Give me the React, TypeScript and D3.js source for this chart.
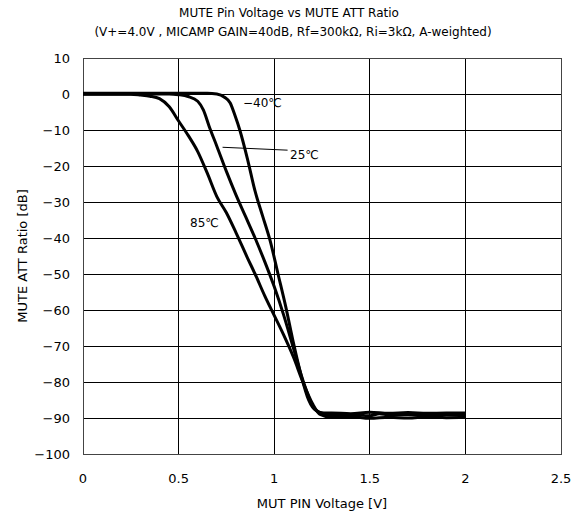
import React from "react";
import * as d3 from "d3";

const xTicks = [0, 0.5, 1, 1.5, 2, 2.5];
const xTickLabels = ["0", "0.5", "1", "1.5", "2", "2.5"];
const yTicks = [10, 0, -10, -20, -30, -40, -50, -60, -70, -80, -90, -100];

const seriesNames = ["-40℃", "25℃", "85℃"];

const voltM40 = [0, 0.3, 0.65, 0.7, 0.74, 0.77, 0.795, 0.82, 0.86, 0.9, 0.94, 0.98, 1.02, 1.06, 1.1, 1.14, 1.18, 1.22, 1.26, 1.3, 1.4, 1.5, 1.6, 1.7, 1.8, 1.9, 2.0];
const attM40 = [0.2, 0.2, 0.2, 0, -0.9, -2.5, -6, -10, -18, -27, -34, -41, -50, -59, -69, -78, -85, -88, -88.6, -88.6, -88.8, -88.4, -88.7, -88.5, -88.7, -88.6, -88.6];

const volt25 = [0, 0.3, 0.45, 0.5, 0.55, 0.6, 0.63, 0.66, 0.7, 0.75, 0.8, 0.85, 0.9, 0.95, 1.0, 1.05, 1.1, 1.15, 1.2, 1.25, 1.3, 1.4, 1.5, 1.55, 1.6, 1.7, 1.8, 1.9, 2.0];
const att25 = [0, 0, 0, -0.2, -0.7, -2, -4.5, -9, -14.5, -21.5, -28, -34, -40, -46.5, -53.5, -61.5, -70.5, -79.5, -86.5, -88.8, -89.3, -89.0, -89.4, -88.8, -89.2, -89.0, -89.3, -89.1, -89.1];

const volt85 = [0, 0.25, 0.3, 0.35, 0.4, 0.45, 0.5, 0.55, 0.6, 0.65, 0.7, 0.75, 0.8, 0.86, 0.9, 0.95, 1.0, 1.05, 1.1, 1.15, 1.2, 1.24, 1.3, 1.4, 1.5, 1.6, 1.7, 1.8, 1.9, 2.0];
const att85 = [-0.1, -0.1, -0.3, -0.6, -1.3, -3.5, -7.5, -11.5, -16, -22, -28.5, -33, -38.5, -45.5, -50, -56, -61.5, -67, -73, -80, -86, -89, -89.8, -89.6, -90.1, -89.8, -90.0, -89.7, -89.9, -89.8];

const W = 578, H = 518;
const plotLeft = 83, plotRight = 561, plotTop = 58, plotBottom = 454;
const FONT = "'DejaVu Sans', sans-serif";

export default function App() {
  const x = d3.scaleLinear().domain([0, 2.5]).range([plotLeft, plotRight]);
  const y = d3.scaleLinear().domain([-100, 10]).range([plotBottom, plotTop]);
  const line = d3
    .line<[number, number]>()
    .x((d) => x(d[0]))
    .y((d) => y(d[1]))
    .curve(d3.curveMonotoneX);
  const series = [
    d3.zip(voltM40, attM40) as [number, number][],
    d3.zip(volt25, att25) as [number, number][],
    d3.zip(volt85, att85) as [number, number][],
  ];
  const fmt = (v: number) => (v < 0 ? "\u2212" + Math.abs(v) : String(v));

  return (
    <svg width={W} height={H} style={{ position: "absolute", left: 0, top: 0, background: "#fff" }} fontFamily={FONT}>
      <rect x={0} y={0} width={W} height={H} fill="#fff" />
      <text x={289} y={17} textAnchor="middle" fontSize={12}>MUTE Pin Voltage vs MUTE ATT Ratio</text>
      <text x={293} y={36} textAnchor="middle" fontSize={12}>(V+=4.0V , MICAMP GAIN=40dB, Rf=300kΩ, Ri=3kΩ, A-weighted)</text>

      {yTicks.map((t) => (
        <line key={"gy" + t} x1={plotLeft} x2={plotRight} y1={y(t)} y2={y(t)} stroke="#000" strokeWidth={1} shapeRendering="crispEdges" />
      ))}
      {xTicks.map((t) => (
        <line key={"gx" + t} x1={x(t)} x2={x(t)} y1={plotTop} y2={plotBottom} stroke="#000" strokeWidth={1} shapeRendering="crispEdges" />
      ))}
      <rect x={plotLeft} y={plotTop} width={plotRight - plotLeft} height={plotBottom - plotTop} fill="none" stroke="#444" strokeWidth={1} shapeRendering="crispEdges" />

      {yTicks.map((t) => (
        <text key={"ty" + t} x={70} y={y(t) + 4.5} textAnchor="end" fontSize={13}>{fmt(t)}</text>
      ))}
      {xTicks.map((t, i) => (
        <text key={"tx" + t} x={x(t)} y={483} textAnchor="middle" fontSize={13}>{xTickLabels[i]}</text>
      ))}
      <text x={322} y={508} textAnchor="middle" fontSize={13}>MUT PIN Voltage [V]</text>
      <text transform={`translate(27,256) rotate(-90)`} textAnchor="middle" fontSize={13}>MUTE ATT Ratio [dB]</text>

      {series.map((s, i) => (
        <path key={"s" + i} d={line(s) || ""} fill="none" stroke="#000" strokeWidth={3} strokeLinejoin="round" />
      ))}

      <line x1={x(0.73)} y1={y(-14.8)} x2={x(1.07)} y2={y(-15.6)} stroke="#000" strokeWidth={1} />
      <text x={243} y={107} fontSize={12}>{seriesNames[0].replace("-", "\u2212")}</text>
      <text x={290} y={159} fontSize={12}>{seriesNames[1]}</text>
      <text x={190} y={227} fontSize={12}>{seriesNames[2]}</text>
    </svg>
  );
}
